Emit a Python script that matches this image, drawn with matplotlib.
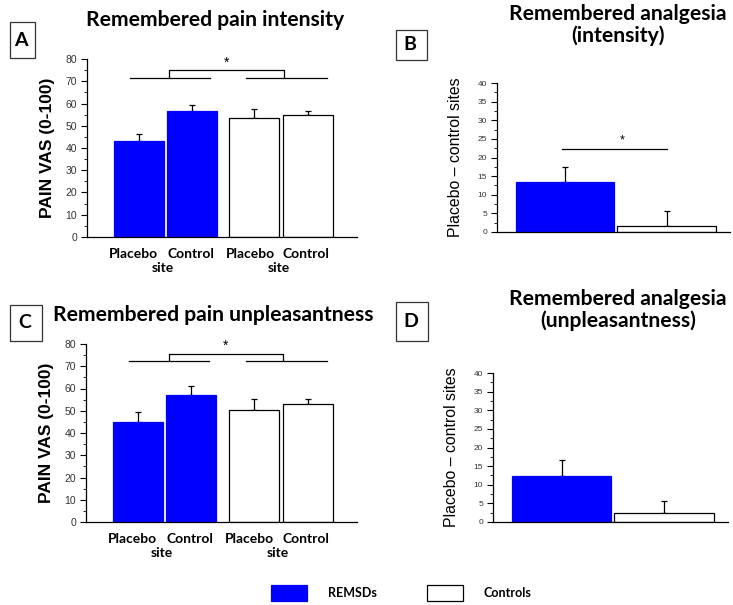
import matplotlib
matplotlib.use("Agg")
import matplotlib.pyplot as plt
from matplotlib.patches import Patch, Rectangle
from matplotlib.ticker import MultipleLocator

# ---------------- data ----------------
group_labels = ["Placebo", "Control", "Placebo", "Control"]
site_label = "site"

intensity_means = [43.3, 56.6, 53.4, 54.8]
intensity_err = [2.9, 2.6, 4.1, 1.8]

unpleas_means = [45.1, 57.2, 50.3, 52.9]
unpleas_err = [4.2, 3.8, 5.1, 2.6]

analg_int_means = [13.5, 1.7]
analg_int_err = [4.0, 3.9]

analg_unp_means = [12.4, 2.5]
analg_unp_err = [4.2, 3.2]

series_names = ["REMSDs", "Controls"]
panel_letters = ["A", "B", "C", "D"]
blue = "#0000FF"

# bar layout (positions in category units)
pos4 = [0.0, 1.07, 2.31, 3.39]
pos2 = [0.0, 1.03]

TITLE_FONT = "Lato"
AX_FONT = "Liberation Sans"

W, H = 733, 605
fig = plt.figure(figsize=(7.33, 6.05), dpi=100)


def fx(px):
    return px / W


def fy(py):
    return 1 - py / H


def style_axis(ax, ymax, major, minor, tick_fs):
    ax.spines["top"].set_visible(False)
    ax.spines["right"].set_visible(False)
    for s in ("left", "bottom"):
        ax.spines[s].set_linewidth(0.9)
    ax.set_ylim(0, ymax)
    ax.yaxis.set_major_locator(MultipleLocator(major))
    ax.yaxis.set_minor_locator(MultipleLocator(minor))
    ax.tick_params(axis="y", which="major", length=4, width=0.8, labelsize=tick_fs,
                   labelcolor="#333333", pad=3)
    ax.tick_params(axis="y", which="minor", length=2, width=0.6)
    ax.set_xticks([])
    for lab in ax.get_yticklabels():
        lab.set_fontfamily(AX_FONT)


def four_bar(ax, means, errs, bracket_y, bracket_top):
    colors = [blue, blue, "white", "white"]
    edges = [blue, blue, "black", "black"]
    ax.bar(pos4, means, width=1.0, color=colors, edgecolor=edges, linewidth=0.9, zorder=2)
    ax.errorbar(pos4, means, yerr=[[0] * 4, errs], fmt="none", ecolor="black",
                elinewidth=0.9, capsize=2.5, capthick=0.9, zorder=1)
    ax.set_xlim(-1.03, 4.37)
    style_axis(ax, 80, 10, 5, 7.5)
    # significance bracket
    l0, l1 = pos4[0] - 0.18, pos4[1] + 0.35
    r0, r1 = pos4[2] - 0.16, pos4[3] + 0.38
    ax.plot([l0, l1], [bracket_y, bracket_y], color="black", lw=0.9, clip_on=False)
    ax.plot([r0, r1], [bracket_y, bracket_y], color="black", lw=0.9, clip_on=False)
    lm, rm = (pos4[0] + pos4[1]) / 2 + 0.08, (pos4[2] + pos4[3]) / 2 + 0.05
    ax.plot([lm, lm, rm, rm], [bracket_y, bracket_top, bracket_top, bracket_y],
            color="black", lw=0.9, clip_on=False)
    ax.text((lm + rm) / 2, bracket_top + 3.6, "*", ha="center", va="center",
            fontsize=10, fontfamily=AX_FONT)
    ax.set_ylabel("PAIN VAS (0-100)", fontsize=12.5, fontweight="bold",
                  fontfamily=AX_FONT, labelpad=8)
    tr = ax.get_xaxis_transform()
    offs = [-0.1, -0.03, -0.08, -0.04]
    for p, lab, o in zip(pos4, group_labels, offs):
        ax.text(p + o, -0.095, lab, transform=tr, ha="center", va="center",
                fontsize=10, fontweight="bold", fontfamily=TITLE_FONT)
    for a, b in ((0, 1), (2, 3)):
        ax.text((pos4[a] + pos4[b]) / 2 - 0.05, -0.175, site_label, transform=tr,
                ha="center", va="center", fontsize=10, fontweight="bold",
                fontfamily=TITLE_FONT)


def two_bar(ax, means, errs, sig=None):
    ax.bar(pos2, means, width=1.0, color=[blue, "white"], edgecolor=[blue, "black"],
           linewidth=0.9, zorder=2)
    ax.errorbar(pos2, means, yerr=[[0, 0], errs], fmt="none", ecolor="black",
                elinewidth=0.9, capsize=2.5, capthick=0.9, zorder=1)
    ax.set_xlim(-0.69, 1.67)
    style_axis(ax, 40, 5, 2.5, 6)
    if sig is not None:
        ax.plot([pos2[0] - 0.03, pos2[1] - 0.0], [sig, sig], color="black", lw=0.9)
        ax.text((pos2[0] + pos2[1]) / 2 + 0.06, sig + 2.4, "*", ha="center",
                va="center", fontsize=9, fontfamily=AX_FONT)
    ax.set_ylabel("Placebo \u2013 control sites", fontsize=11.4, fontfamily=AX_FONT,
                  labelpad=11)


def box_label(x0, y0, x1, y1, s):
    fig.patches.append(Rectangle((fx(x0), fy(y1)), fx(x1) - fx(x0), fy(y0) - fy(y1),
                                 transform=fig.transFigure, fc="white", ec="#333333",
                                 lw=0.9))
    fig.text(fx((x0 + x1) / 2 - 1.5), fy((y0 + y1) / 2), s, ha="center", va="center",
             fontsize=14, fontweight="bold", fontfamily=TITLE_FONT)


axA = fig.add_axes([fx(87), fy(237), 270 / W, 178 / H])
four_bar(axA, intensity_means, intensity_err, 71.6, 74.9)
axB = fig.add_axes([fx(497), fy(232), 233 / W, 149 / H])
two_bar(axB, analg_int_means, analg_int_err, sig=22.2)
axC = fig.add_axes([fx(86), fy(522), 271 / W, 178 / H])
four_bar(axC, unpleas_means, unpleas_err, 72.4, 75.5)
axD = fig.add_axes([fx(493), fy(522), 235 / W, 149 / H])
two_bar(axD, analg_unp_means, analg_unp_err)

# titles
tkw = dict(ha="center", va="center", fontsize=15.2, fontweight="bold", fontfamily=TITLE_FONT)
fig.text(fx(215), fy(20), "Remembered pain intensity", **tkw)
fig.text(fx(618), fy(25), "Remembered analgesia\n(intensity)", linespacing=1.1, **tkw)
fig.text(fx(213), fy(315), "Remembered pain unpleasantness", **tkw)
fig.text(fx(618), fy(310), "Remembered analgesia\n(unpleasantness)", linespacing=1.1, **tkw)

box_label(10, 22, 35, 58, panel_letters[0])
box_label(396, 30, 427, 60, panel_letters[1])
box_label(10, 305, 42, 341, panel_letters[2])
box_label(396, 302, 428, 341, panel_letters[3])

handles = [Patch(facecolor=blue, edgecolor=blue, lw=0.9),
           Patch(facecolor="white", edgecolor="black", lw=0.9)]
fig.legend(handles, series_names, loc="center left", bbox_to_anchor=(fx(260), fy(593)),
           ncol=2, frameon=False, handlelength=2.85, handleheight=1.7, handletextpad=1.7,
           columnspacing=4.0, prop=dict(family=TITLE_FONT, weight="bold", size=9))

fig.savefig("out.png", dpi=100)
